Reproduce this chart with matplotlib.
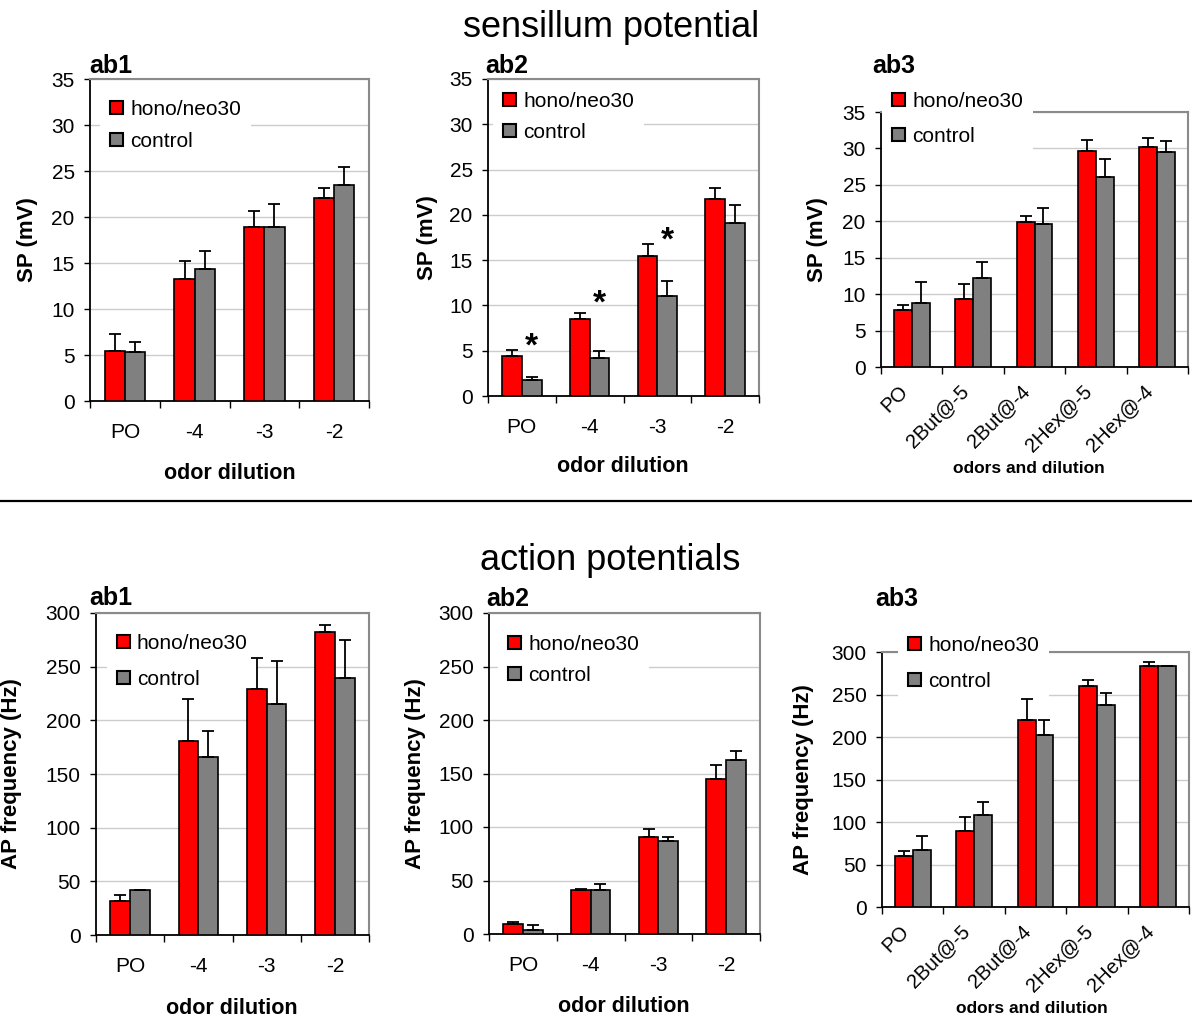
import matplotlib
matplotlib.use('Agg')
import matplotlib.pyplot as plt
from matplotlib.patches import Patch
from matplotlib.lines import Line2D
from matplotlib.transforms import ScaledTranslation, offset_copy
import numpy as np

plt.rcParams['font.family'] = ['Liberation Sans', 'DejaVu Sans']

W, H = 1192, 1021

# ---------------- data ----------------
dilution_cats = ['PO', '-4', '-3', '-2']
odor_cats = ['PO', '2But@-5', '2But@-4', '2Hex@-5', '2Hex@-4']
series_names = ['hono/neo30', 'control']

sp_ab1_hono = [5.45, 13.3, 18.9, 22.05]
sp_ab1_hono_err = [1.8, 1.9, 1.8, 1.05]
sp_ab1_ctrl = [5.3, 14.4, 18.9, 23.5]
sp_ab1_ctrl_err = [1.1, 1.9, 2.5, 1.9]

sp_ab2_hono = [4.4, 8.5, 15.5, 21.7]
sp_ab2_hono_err = [0.7, 0.65, 1.3, 1.3]
sp_ab2_ctrl = [1.75, 4.2, 11.0, 19.1]
sp_ab2_ctrl_err = [0.4, 0.75, 1.7, 2.0]
sp_ab2_star_y = [6.1, 10.8, 17.8]   # significance marks for PO, -4, -3

sp_ab3_hono = [7.85, 9.4, 19.85, 29.7, 30.15]
sp_ab3_hono_err = [0.7, 2.05, 0.85, 1.4, 1.25]
sp_ab3_ctrl = [8.8, 12.2, 19.6, 26.1, 29.5]
sp_ab3_ctrl_err = [2.9, 2.2, 2.2, 2.4, 1.5]

ap_ab1_hono = [32, 181, 229, 282]
ap_ab1_hono_err = [5, 39, 29, 7]
ap_ab1_ctrl = [42, 166, 215, 239]
ap_ab1_ctrl_err = [0, 24, 40, 36]

ap_ab2_hono = [9.5, 41, 91, 145]
ap_ab2_hono_err = [1.5, 1.5, 7.5, 13]
ap_ab2_ctrl = [4, 41, 87, 162.5]
ap_ab2_ctrl_err = [4, 5.5, 4, 8.5]

ap_ab3_hono = [60.5, 89, 219.5, 260, 283]
ap_ab3_hono_err = [5, 17, 25, 6.5, 5.5]
ap_ab3_ctrl = [66.5, 108, 202.5, 238, 283]
ap_ab3_ctrl_err = [17, 16, 18, 14, 1]

RED = '#ff0000'
GRAY = '#808080'

fig = plt.figure(figsize=(W / 100, H / 100), dpi=100)


def px_axes(left, top, right, bottom):
    return fig.add_axes([left / W, 1 - bottom / H, (right - left) / W, (bottom - top) / H])


def panel(box, cats, hono, hono_err, ctrl, ctrl_err, ymax, ystep, ylabel, xlabel,
          letter, letter_xy, ylabel_x, xlabel_xy, leg_xy, leg_space, rotated=False,
          xlabel_size=15.5):
    left, top, right, bottom = box
    ax = px_axes(left, top, right, bottom)
    n = len(cats)
    x = np.arange(n)
    w = 0.29
    ax.bar(x - w / 2, hono, w, color=RED, edgecolor='black', linewidth=1.2, zorder=3)
    ax.bar(x + w / 2, ctrl, w, color=GRAY, edgecolor='black', linewidth=1.2, zorder=3)
    ax.errorbar(x - w / 2, hono, yerr=[np.zeros(n), hono_err], fmt='none', ecolor='black',
                elinewidth=1.3, capsize=4.5, capthick=1.3, zorder=4)
    ax.errorbar(x + w / 2, ctrl, yerr=[np.zeros(n), ctrl_err], fmt='none', ecolor='black',
                elinewidth=1.3, capsize=4.5, capthick=1.3, zorder=4)
    ax.set_xlim(-0.5, n - 0.5)
    ax.set_ylim(0, ymax)
    ax.set_yticks(np.arange(0, ymax + ystep / 2, ystep))
    ax.yaxis.grid(True, color='#cccccc', linewidth=1.0)
    ax.set_axisbelow(True)
    ax.tick_params(axis='y', direction='out', length=4, width=1.0, labelsize=15, pad=7)
    ax.set_xticks(x)
    ax.set_xticks(np.arange(n + 1) - 0.5, minor=True)
    ax.tick_params(axis='x', which='minor', direction='out', length=5, width=1.0)
    if rotated:
        ax.set_xticklabels(cats, rotation=45, ha='right', va='center', rotation_mode='anchor',
                           fontsize=14.5)
        ax.tick_params(axis='x', which='major', length=0, pad=14)
        for lab in ax.get_xticklabels():
            lab.set_transform(lab.get_transform() +
                              ScaledTranslation(-0.07, -0.02, fig.dpi_scale_trans))
    else:
        ax.set_xticklabels(cats, fontsize=15)
        ax.tick_params(axis='x', which='major', length=0, pad=16)
    for s in ('left', 'bottom'):
        ax.spines[s].set_color('black')
        ax.spines[s].set_linewidth(1.3)
    for s in ('top', 'right'):
        ax.spines[s].set_color('#8a8a8a')
        ax.spines[s].set_linewidth(1.5)
    aw = right - left
    ah = bottom - top
    ax.set_ylabel(ylabel, fontsize=16, fontweight='bold')
    ax.yaxis.label.set_va('center')
    ax.yaxis.set_label_coords((ylabel_x - left) / aw, 0.5)
    ax.set_xlabel(xlabel, fontsize=xlabel_size, fontweight='bold')
    ax.xaxis.label.set_va('center')
    ax.xaxis.set_label_coords((xlabel_xy[0] - left) / aw, (bottom - xlabel_xy[1]) / ah)
    fig.text(letter_xy[0] / W, 1 - letter_xy[1] / H, letter, fontsize=18, fontweight='bold',
             ha='left', va='baseline')
    handles = [Patch(facecolor=RED, edgecolor='black', linewidth=1.5),
               Patch(facecolor=GRAY, edgecolor='black', linewidth=1.5)]
    leg = ax.legend(handles, series_names, loc='upper left',
                    bbox_to_anchor=(leg_xy[0] / W, 1 - leg_xy[1] / H),
                    bbox_transform=fig.transFigure, borderaxespad=0, fontsize=15,
                    handlelength=0.62, handleheight=0.62, handletextpad=0.32,
                    borderpad=0.5, labelspacing=leg_space, frameon=True, fancybox=False)
    leg.get_frame().set_facecolor('white')
    leg.get_frame().set_edgecolor('none')
    leg.get_frame().set_alpha(1)
    # above gridlines and the frame, below the bars
    leg.set_zorder(2.7)
    return ax


ax1 = panel((90, 79, 369, 401), dilution_cats, sp_ab1_hono, sp_ab1_hono_err, sp_ab1_ctrl,
            sp_ab1_ctrl_err, 35, 5, 'SP (mV)', 'odor dilution', 'ab1', (89, 73), 27, (229.5, 473),
            (100, 89.5), 0.62)
ax2 = panel((488, 79, 759, 396), dilution_cats, sp_ab2_hono, sp_ab2_hono_err, sp_ab2_ctrl,
            sp_ab2_ctrl_err, 35, 5, 'SP (mV)', 'odor dilution', 'ab2', (485, 73), 427, (623, 467),
            (493, 81.5), 0.57)
star_tr = offset_copy(ax2.transData, fig=fig, x=0, y=-6, units='dots')
for i, yv in enumerate(sp_ab2_star_y):
    ax2.text(i + 0.145, yv, '*', fontsize=24, fontweight='bold', ha='center', va='center',
             zorder=5, transform=star_tr)
ax3 = panel((881, 112, 1188, 367), odor_cats, sp_ab3_hono, sp_ab3_hono_err, sp_ab3_ctrl,
            sp_ab3_ctrl_err, 35, 5, 'SP (mV)', 'odors and dilution', 'ab3', (872, 73), 818,
            (1029, 468), (882, 81.5), 0.76, rotated=True, xlabel_size=12.5)
ax4 = panel((96, 613, 369, 935), dilution_cats, ap_ab1_hono, ap_ab1_hono_err, ap_ab1_ctrl,
            ap_ab1_ctrl_err, 300, 50, 'AP frequency (Hz)', 'odor dilution', 'ab1', (89, 605), 12,
            (232, 1008), (107, 623.5), 0.81)
ax5 = panel((489, 613, 760, 934), dilution_cats, ap_ab2_hono, ap_ab2_hono_err, ap_ab2_ctrl,
            ap_ab2_ctrl_err, 300, 50, 'AP frequency (Hz)', 'odor dilution', 'ab2', (486, 606), 415,
            (624, 1006), (498, 624.5), 0.57)
ax6 = panel((882, 652, 1189, 907), odor_cats, ap_ab3_hono, ap_ab3_hono_err, ap_ab3_ctrl,
            ap_ab3_ctrl_err, 300, 50, 'AP frequency (Hz)', 'odors and dilution', 'ab3', (875, 606),
            804, (1032, 1008), (898, 625.5), 0.81, rotated=True, xlabel_size=12.5)

fig.text(611 / W, 1 - 37 / H, 'sensillum potential', fontsize=26, ha='center', va='baseline')
fig.text(610.5 / W, 1 - 570 / H, 'action potentials', fontsize=26, ha='center', va='baseline')
fig.add_artist(Line2D([0, 1], [1 - 500.5 / H, 1 - 500.5 / H], transform=fig.transFigure,
                      color='black', linewidth=1.6))

fig.savefig('out.png', dpi=100)
